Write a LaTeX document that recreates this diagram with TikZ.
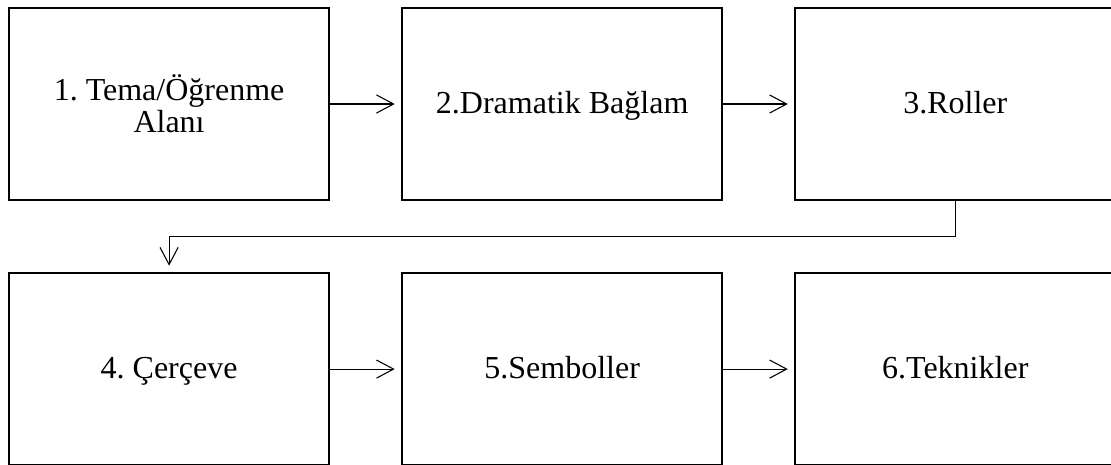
\documentclass[tikz,border=0pt]{standalone}
\usepackage{fontspec}
\setmainfont{Liberation Serif}
\frenchspacing
\usetikzlibrary{arrows.meta,positioning}
\tikzset{
  stage/.style={rectangle,draw=black,line width=0.9pt,fill=white,align=center,minimum width=120pt,minimum height=72pt,inner sep=4pt,outer sep=0pt,font=\fontsize{12}{12}\selectfont},
  oneline/.style={text height=9.6pt,text depth=2.5pt},
  arrow/.style={-{Straight Barb[length=6.4pt,width=6.8pt]},line width=0.4pt,black,shorten >=2.8pt}
}

\begin{document}
\begin{tikzpicture}[node distance=27.4pt]
    \useasboundingbox (-63.4pt,-135pt) rectangle (353.2pt,39pt);
    \node[stage] (tema) at (0,0) {1. Tema/Öğrenme\\Alanı};
    \node[stage,oneline,right=of tema] (baglam) {2.Dramatik Bağlam};
    \node[stage,oneline,right=of baglam] (roller) {3.Roller};
    \node[stage,oneline,below=of tema] (cerceve) {4. Çerçeve};
    \node[stage,oneline,right=of cerceve] (semboller) {5.Semboller};
    \node[stage,oneline,right=of semboller] (teknikler) {6.Teknikler};
    \draw[arrow] (tema) -- (baglam);
    \draw[arrow] (baglam) -- (roller);
    \draw[arrow] (roller.south) -- ++(0,-13.7pt) -| (cerceve.north);
    \draw[arrow] (cerceve) -- (semboller);
    \draw[arrow] (semboller) -- (teknikler);
  \end{tikzpicture}
\end{document}
